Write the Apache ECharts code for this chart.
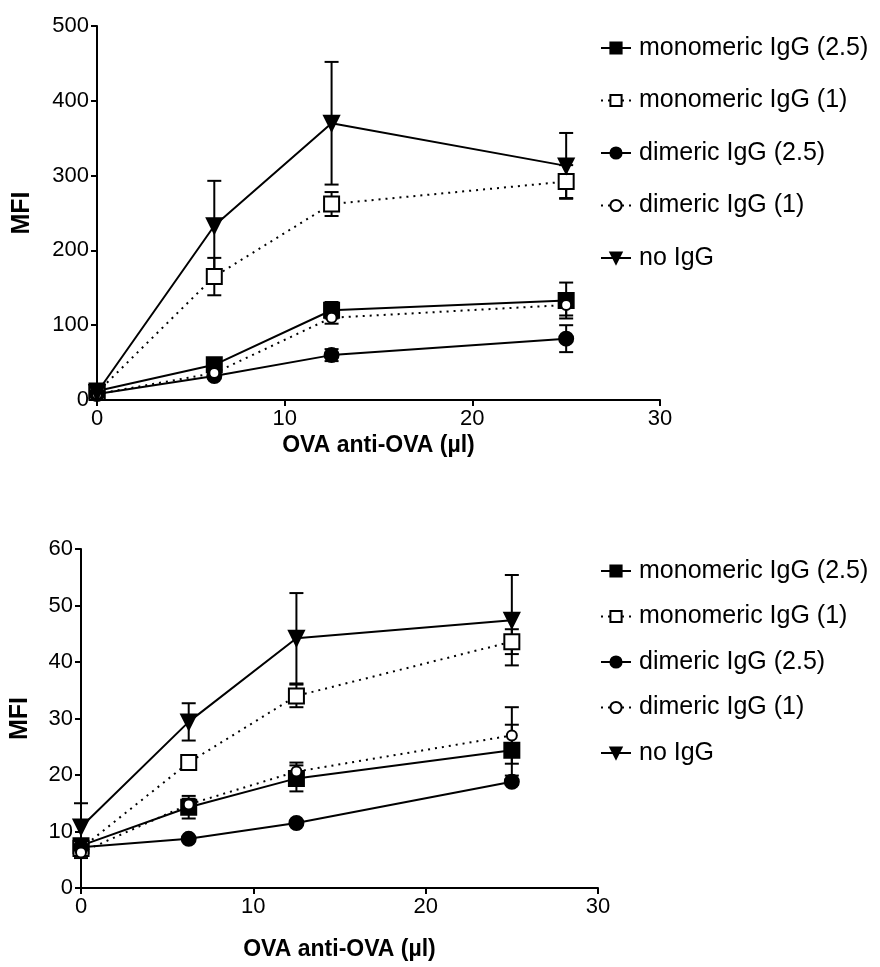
<!DOCTYPE html>
<html>
<head>
<meta charset="utf-8">
<script src="https://cdn.jsdelivr.net/npm/echarts@6/dist/echarts.min.js"></script>
<style>
html, body { margin: 0; padding: 0; background: #fff; }
#main { width: 880px; height: 967px; }
</style>
</head>
<body>
<div id="main"></div>
<script>
(function () {
    var mychart = echarts.init(document.getElementById('main'));

    // OVA anti-OVA (ul)
    var xVals = [0, 6.25, 12.5, 25];
    var names = ['monomeric IgG (2.5)', 'monomeric IgG (1)', 'dimeric IgG (2.5)', 'dimeric IgG (1)', 'no IgG'];

    // top panel: mean and error
    var topMono25 = [12, 47, 120, 133];
    var topMono25Err = [3, 4, 11, 24];
    var topMono1 = [10, 165, 262, 292];
    var topMono1Err = [3, 25, 16, 22];
    var topDi25 = [8, 32, 60, 82];
    var topDi25Err = [2, 3, 8, 18];
    var topDi1 = [8, 36, 110, 127];
    var topDi1Err = [2, 3, 8, 14];
    var topNo = [10, 233, 370, 313];
    var topNoErr = [3, 60, 82, 44];

    // bottom panel
    var botMono25 = [7.5, 14.3, 19.4, 24.4];
    var botMono25Err = [0.5, 2, 2.3, 4.5];
    var botMono1 = [7.0, 22.2, 34, 43.6];
    var botMono1Err = [0.5, 1, 2, 2.2];
    var botDi25 = [7.2, 8.7, 11.5, 18.8];
    var botDi25Err = [0.3, 0.3, 0.3, 0.5];
    var botDi1 = [6.3, 14.8, 20.6, 27];
    var botDi1Err = [1, 1, 1.6, 5];
    var botNo = [10.8, 29.4, 44.2, 47.4];
    var botNoErr = [4.2, 3.3, 8, 8];

    var topTicks = [0, 500, 100];
    var botTicks = [0, 60, 10];
    var xTicks = [0, 30, 10];

    var font = 'Liberation Sans, Arial, sans-serif';

    // marker look per series, same order as names
    var looks = [
        { symbol: 'rect', size: 15, fill: '#000', dash: 'solid', rotate: 0 },
        { symbol: 'rect', size: 15, fill: '#fff', dash: [2, 5], rotate: 0 },
        { symbol: 'circle', size: 14, fill: '#000', dash: 'solid', rotate: 0 },
        { symbol: 'circle', size: 10, fill: '#fff', dash: [2, 5], rotate: 0 },
        { symbol: 'triangle', size: 15, fill: '#000', dash: 'solid', rotate: 180 }
    ];

    function pairs(vals) {
        return xVals.map(function (x, i) { return [x, vals[i]]; });
    }
    function errs(vals, e) {
        return xVals.map(function (x, i) { return [x, vals[i] - e[i], vals[i] + e[i]]; });
    }

    //误差线
    function errorItem(params, api) {
        var x = api.value(0);
        var lo = api.coord([x, api.value(1)]);
        var hi = api.coord([x, api.value(2)]);
        var w = 7;
        var st = { stroke: '#000', lineWidth: 2 };
        return {
            type: 'group',
            children: [
                { type: 'line', shape: { x1: lo[0], y1: lo[1], x2: hi[0], y2: hi[1] }, style: st },
                { type: 'line', shape: { x1: lo[0] - w, y1: lo[1], x2: lo[0] + w, y2: lo[1] }, style: st },
                { type: 'line', shape: { x1: hi[0] - w, y1: hi[1], x2: hi[0] + w, y2: hi[1] }, style: st }
            ]
        };
    }

    var series = [];
    function addPanel(idx, means, errors) {
        means.forEach(function (m, k) {
            series.push({
                type: 'custom',
                name: names[k] + ' err',
                xAxisIndex: idx,
                yAxisIndex: idx,
                renderItem: errorItem,
                encode: { x: 0, y: [1, 2] },
                data: errs(m, errors[k]),
                z: 1,
                silent: true
            });
        });
        means.forEach(function (m, k) {
            var lk = looks[k];
            series.push({
                type: 'line',
                name: names[k],
                xAxisIndex: idx,
                yAxisIndex: idx,
                data: pairs(m),
                symbol: lk.symbol,
                symbolSize: lk.size,
                symbolRotate: lk.rotate,
                showAllSymbol: true,
                lineStyle: { color: '#000', width: 2, type: lk.dash },
                itemStyle: { color: lk.fill, borderColor: '#000', borderWidth: 2 },
                z: 3
            });
        });
    }
    addPanel(0, [topMono25, topMono1, topDi25, topDi1, topNo],
        [topMono25Err, topMono1Err, topDi25Err, topDi1Err, topNoErr]);
    addPanel(1, [botMono25, botMono1, botDi25, botDi1, botNo],
        [botMono25Err, botMono1Err, botDi25Err, botDi1Err, botNoErr]);

    function xAxis(idx, gap) {
        return {
            type: 'value',
            gridIndex: idx,
            min: xTicks[0], max: xTicks[1], interval: xTicks[2],
            name: 'OVA anti-OVA (µl)',
            nameLocation: 'middle',
            nameGap: gap,
            nameTextStyle: { color: '#000', fontSize: 23, fontWeight: 'bold', fontFamily: font },
            axisLine: { lineStyle: { color: '#000', width: 2 } },
            axisTick: { length: 6, lineStyle: { color: '#000', width: 2 } },
            axisLabel: { color: '#000', fontSize: 22, fontFamily: font, margin: 8 },
            splitLine: { show: false }
        };
    }
    function yAxis(idx, t, gap) {
        return {
            type: 'value',
            gridIndex: idx,
            min: t[0], max: t[1], interval: t[2],
            name: 'MFI',
            nameLocation: 'middle',
            nameGap: gap,
            nameTextStyle: { color: '#000', fontSize: 25, fontWeight: 'bold', fontFamily: font },
            axisLine: { show: true, lineStyle: { color: '#000', width: 2 } },
            axisTick: { show: true, length: 6, lineStyle: { color: '#000', width: 2 } },
            axisLabel: { color: '#000', fontSize: 22, fontFamily: font, margin: 8 },
            splitLine: { show: false }
        };
    }
    function legend(top, gap) {
        return {
            data: names,
            orient: 'vertical',
            left: 595,
            top: top,
            itemWidth: 30,
            itemHeight: 14,
            itemGap: gap,
            selectedMode: false,
            textStyle: { color: '#000', fontSize: 25, fontFamily: font, lineHeight: 26, padding: [0, 0, 0, 3] }
        };
    }

    var option = {
        backgroundColor: '#fff',
        animation: false,
        grid: [
            { left: 97, top: 26, width: 563, height: 374 },
            { left: 81, top: 549, width: 517, height: 339 }
        ],
        legend: [legend(30, 26.5), legend(553, 19.5)],
        xAxis: [xAxis(0, 34), xAxis(1, 50)],
        yAxis: [yAxis(0, topTicks, 62), yAxis(1, botTicks, 48)],
        series: series
    };
    mychart.setOption(option);
    window.addEventListener('resize', function () {
        mychart.resize();
    });
})();
</script>
</body>
</html>
